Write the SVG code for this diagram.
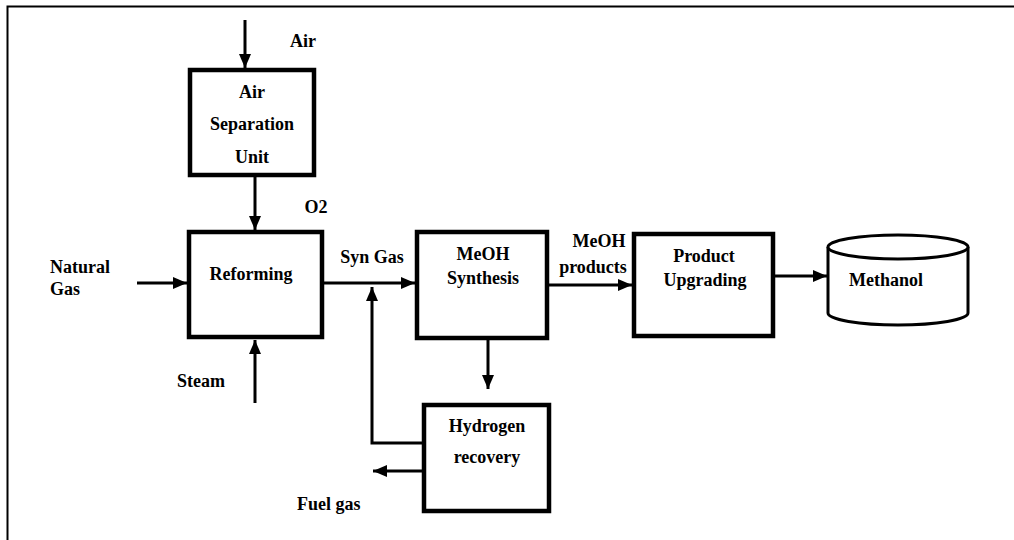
<svg xmlns="http://www.w3.org/2000/svg" width="1014" height="540" viewBox="0 0 1014 540">
<defs>
<marker id="ah" viewBox="0 0 14 12" refX="14" refY="6" markerWidth="14" markerHeight="12" markerUnits="userSpaceOnUse" orient="auto">
<path d="M0,0 L14,6 L0,12 Z" fill="#000"/>
</marker>
</defs>
<style>
.box{fill:#fff;stroke:#000;stroke-width:4.5}
.cyl{fill:#fff;stroke:#000;stroke-width:3}
.ln{fill:none;stroke:#000;stroke-width:3}
text{font-family:'Liberation Serif','DejaVu Serif',serif;font-weight:bold;font-size:18px;fill:#000}
.m{text-anchor:middle}
</style>
<rect width="1014" height="540" fill="#fff"/>
<path d="M7.5,540 V6.5 H1014" fill="none" stroke="#000" stroke-width="2"/>

<g id="connectors">
<line class="ln" x1="245" y1="20" x2="245" y2="68" marker-end="url(#ah)"/>
<line class="ln" x1="255" y1="177" x2="255" y2="230" marker-end="url(#ah)"/>
<line class="ln" x1="137" y1="283" x2="187" y2="283" marker-end="url(#ah)"/>
<line class="ln" x1="255" y1="403" x2="255" y2="340" marker-end="url(#ah)"/>
<line class="ln" x1="324" y1="283" x2="415" y2="283" marker-end="url(#ah)"/>
<path class="ln" d="M422,443 H372 V287" marker-end="url(#ah)"/>
<line class="ln" x1="422" y1="471" x2="373" y2="471" marker-end="url(#ah)"/>
<line class="ln" x1="488" y1="340" x2="488" y2="389" marker-end="url(#ah)"/>
<line class="ln" x1="549" y1="285" x2="632" y2="285" marker-end="url(#ah)"/>
<line class="ln" x1="775" y1="276" x2="827" y2="276" marker-end="url(#ah)"/>
</g>

<g id="asu">
<rect class="box" x="190" y="70" width="124" height="105"/>
<text class="m" x="252" y="98" font-family="Liberation Serif, serif">Air</text>
<text class="m" x="252" y="130" font-family="Liberation Serif, serif">Separation</text>
<text class="m" x="252" y="163" font-family="Liberation Serif, serif">Unit</text>
</g>
<g id="reforming">
<rect class="box" x="189" y="232" width="133" height="105"/>
<text class="m" x="251" y="280" font-family="Liberation Serif, serif">Reforming</text>
</g>
<g id="meoh-synthesis">
<rect class="box" x="417" y="232" width="130" height="106"/>
<text class="m" x="483" y="260" font-family="Liberation Serif, serif">MeOH</text>
<text class="m" x="483" y="284" font-family="Liberation Serif, serif">Synthesis</text>
</g>
<g id="product-upgrading">
<rect class="box" x="634" y="234" width="139" height="102"/>
<text class="m" x="704" y="262" font-family="Liberation Serif, serif">Product</text>
<text class="m" x="705" y="286" font-family="Liberation Serif, serif">Upgrading</text>
</g>
<g id="hydrogen-recovery">
<rect class="box" x="424" y="405" width="125" height="106"/>
<text class="m" x="487" y="432" font-family="Liberation Serif, serif">Hydrogen</text>
<text class="m" x="487" y="463" font-family="Liberation Serif, serif">recovery</text>
</g>
<g id="methanol">
<path class="cyl" d="M828,247 V313 A70,12 0 0 0 968,313 V247"/>
<ellipse class="cyl" cx="898" cy="247" rx="70" ry="12"/>
<text class="m" x="886" y="286" font-family="Liberation Serif, serif">Methanol</text>
</g>

<g id="labels">
<text class="m" x="303" y="47" font-family="Liberation Serif, serif">Air</text>
<text class="m" x="316" y="213" font-family="Liberation Serif, serif">O2</text>
<text x="50" y="273" font-family="Liberation Serif, serif">Natural</text>
<text x="50" y="295" font-family="Liberation Serif, serif">Gas</text>
<text x="177" y="387" font-family="Liberation Serif, serif">Steam</text>
<text class="m" x="372" y="263" font-family="Liberation Serif, serif">Syn Gas</text>
<text class="m" x="599" y="247" font-family="Liberation Serif, serif">MeOH</text>
<text class="m" x="593" y="273" font-family="Liberation Serif, serif">products</text>
<text x="297" y="510" font-family="Liberation Serif, serif">Fuel gas</text>
</g>
</svg>
